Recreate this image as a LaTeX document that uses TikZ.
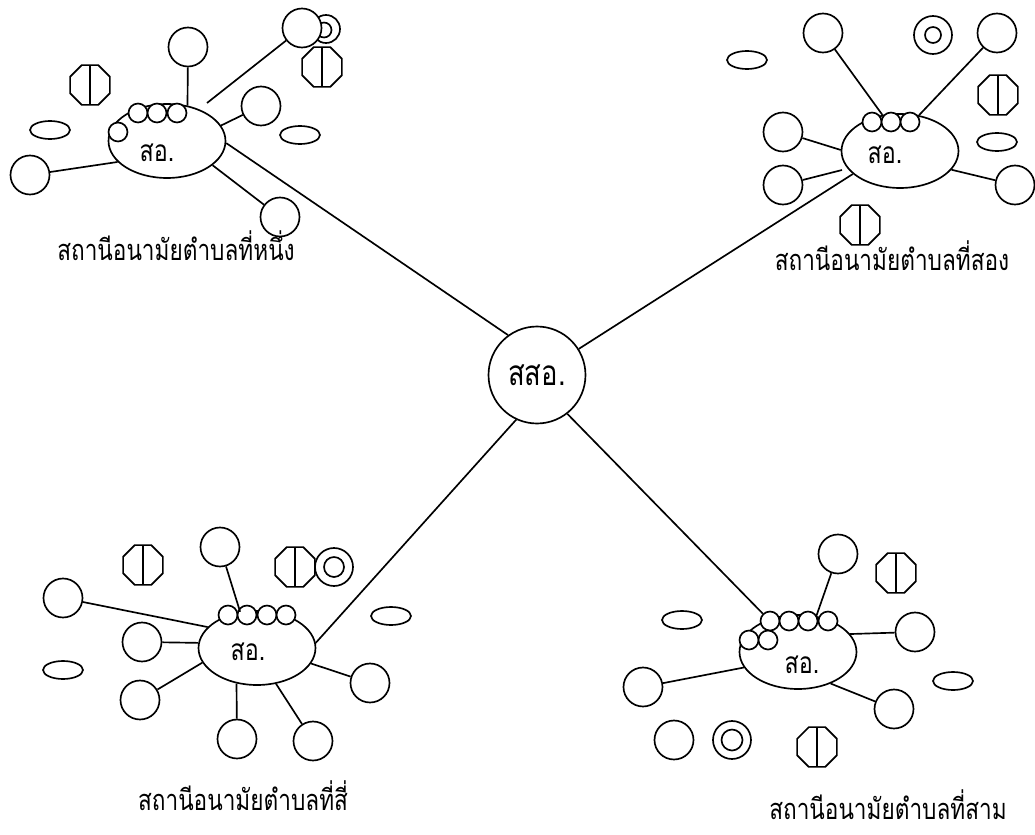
\documentclass[tikz,border=0pt]{standalone}
\usepackage{fontspec}
\newfontfamily\thaifont[Script=Thai, FakeStretch=0.78]{Loma}
\usetikzlibrary{shapes.geometric}

\tikzset{
  hub/.style={draw, circle, minimum size=1.94cm, inner sep=0pt, font=\thaifont\fontsize{20}{22}\selectfont},
  hc/.style={draw, ellipse, minimum width=2.34cm, minimum height=1.48cm, inner sep=0pt},
  sat/.style={draw, circle, minimum size=0.78cm, inner sep=0pt, fill=white},
  bead/.style={draw, circle, minimum size=0.38cm, inner sep=0pt, fill=white},
  pill/.style={draw, ellipse, minimum width=0.8cm, minimum height=0.36cm, inner sep=0pt},
  tab/.style={draw, regular polygon, regular polygon sides=8, minimum size=0.86cm, inner sep=0pt,
    path picture={\draw (path picture bounding box.north) -- (path picture bounding box.south);}},
  ring/.style={draw, circle, minimum size=0.76cm, inner sep=0pt, fill=white},
  ringin/.style={draw, circle, minimum size=0.38cm, inner sep=0pt},
  txt/.style={font=\thaifont\fontsize{17}{19}\selectfont, inner sep=0pt},
  lbl/.style={font=\thaifont\fontsize{16.5}{18}\selectfont, inner sep=0pt},
}

\begin{document}
\begin{tikzpicture}[x=0.02cm,y=-0.02cm,line width=0.95pt]
\useasboundingbox (0,0) rectangle (1035,835);

\node[hub] (ssa) at (537,375) {สสอ.};

% station 1
\node[hc] (c1) at (167,141) {};
\node[txt] (c1t) at (157,153) {สอ.};
\node[bead] (b1a) at (118,132) {};
\node[bead] (b1b) at (138,113) {};
\node[bead] (b1c) at (157,113) {};
\node[bead] (b1d) at (177,113) {};
\node[sat] (a1) at (188,47) {};
\node[ring, minimum size=0.56cm] (r1) at (326,29) {};
\node[ringin, minimum size=0.3cm] (r1i) at (324,30) {};
\node[sat] (a2) at (302,28) {};
\node[tab] (t1a) at (322,67) {};
\node[tab] (t1b) at (90,85) {};
\node[sat] (a3) at (261,106) {};
\node[pill] (p1a) at (50,130) {};
\node[pill] (p1b) at (300,135) {};
\node[sat] (a4) at (30,175) {};
\node[sat] (a5) at (280,217) {};
\coordinate (g1) at (207,103);
\node[lbl] (lab1) at (176,246) {สถานีอนามัยตำบลที่หนึ่ง};

\draw (a1) -- (c1.60);
\draw (a2) -- (g1);
\draw (a3) -- (c1.16);
\draw (a4) -- (c1.203);
\draw (a5) -- (c1.332);
\draw (c1.358) -- (ssa.126);

% station 2
\node[hc] (c2) at (900,151) {};
\node[txt] (c2t) at (885,155) {สอ.};
\node[bead] (b2a) at (872,122) {};
\node[bead] (b2b) at (891,122) {};
\node[bead] (b2c) at (910,122) {};
\node[sat] (d1) at (823,33) {};
\node[ring] (r2) at (933,35) {};
\node[ringin, minimum size=0.32cm] (r2i) at (933,35) {};
\node[sat] (d2) at (997,33) {};
\node[pill] (p2a) at (747,60) {};
\node[tab] (t2a) at (998,95) {};
\node[pill] (p2b) at (997,142) {};
\node[sat] (d3) at (783,132) {};
\node[sat] (d4) at (783,185) {};
\node[sat] (d5) at (1015,185) {};
\node[tab] (t2b) at (860,225) {};
\coordinate (g2) at (842,170);
\node[lbl] (lab2) at (892,256) {สถานีอนามัยตำบลที่สอง};

\draw (d1) -- (c2.116);
\draw (d2) -- (c2.62);
\draw (d3) -- (c2.179);
\draw (d4) -- (g2);
\draw (d5) -- (c2.340);
\draw (c2.206) -- (ssa.32);

% station 3
\node[hc] (c3) at (798,652) {};
\node[txt] (c3t) at (802,665) {สอ.};
\node[bead] (b3a) at (770,621) {};
\node[bead] (b3b) at (789,621) {};
\node[bead] (b3c) at (808,621) {};
\node[bead] (b3d) at (828,621) {};
\node[bead] (b3e) at (749,640) {};
\node[bead] (b3f) at (768,640) {};
\node[sat] (e1) at (838,554) {};
\node[tab] (t3a) at (896,573) {};
\node[pill] (p3a) at (682,620) {};
\node[sat] (e2) at (915,632) {};
\node[pill] (p3b) at (953,681) {};
\node[sat] (e3) at (643,687) {};
\node[sat] (e4) at (894,709) {};
\node[sat] (e5) at (674,740) {};
\node[ring] (r3) at (732,740) {};
\node[ringin, minimum size=0.42cm] (r3i) at (732,740) {};
\node[tab] (t3b) at (817,747) {};
\node[lbl] (lab3) at (888,805) {สถานีอนามัยตำบลที่สาม};

\draw (e1) -- (c3.63);
\draw (e2) -- (c3.19);
\draw (e3) -- (c3.196);
\draw (e4) -- (c3.316);
\draw (ssa.308) -- (b3a);

% station 4
\node[hc] (c4) at (257,648) {};
\node[txt] (c4t) at (248,652) {สอ.};
\node[bead] (b4a) at (228,615) {};
\node[bead] (b4b) at (247,615) {};
\node[bead] (b4c) at (267,615) {};
\node[bead] (b4d) at (286,615) {};
\node[sat] (f1) at (220,547) {};
\node[tab] (t4a) at (143,565) {};
\node[tab] (t4b) at (295,567) {};
\node[ring] (r4) at (334,567) {};
\node[ringin, minimum size=0.4cm] (r4i) at (334,567) {};
\node[sat] (f2) at (63,598) {};
\node[sat] (f3) at (142,642) {};
\node[pill] (p4a) at (63,670) {};
\node[sat] (f4) at (140,700) {};
\node[sat] (f5) at (237,739) {};
\node[sat] (f6) at (313,741) {};
\node[sat] (f7) at (370,683) {};
\node[pill] (p4b) at (391,616) {};
\node[lbl] (lab4) at (243,796) {สถานีอนามัยตำบลที่สี่};

\draw (f1) -- (c4.115);
\draw (f2) -- (c4.157);
\draw (f3) -- (c4.175);
\draw (f4) -- (c4.195);
\draw (f5) -- (c4.240);
\draw (f6) -- (c4.298);
\draw (f7) -- (c4.344);
\draw (c4.5) -- (ssa.245);

\end{tikzpicture}
\end{document}
